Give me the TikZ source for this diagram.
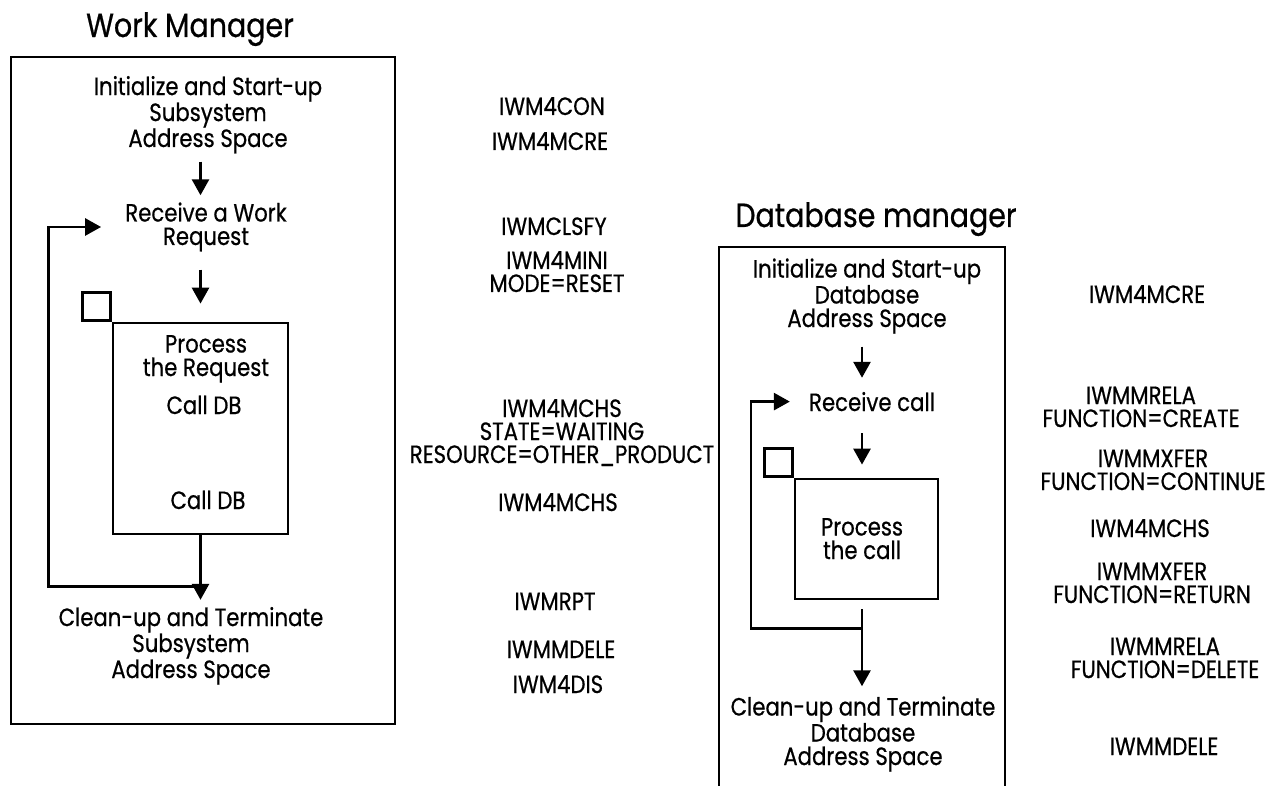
\documentclass[tikz,border=0pt]{standalone}
\usepackage{fontspec}
\setmainfont{Poppins}[FakeStretch=0.85,FakeBold=0.6]
\usetikzlibrary{arrows.meta,positioning,calc}
\newcommand{\stepfont}{\fontsize{25}{23.5}\selectfont}
\newcommand{\callfont}{\fontsize{25}{23}\selectfont}
\newcommand{\headfont}{\fontsize{33.5}{33.5}\selectfont}
\begin{document}
\begin{tikzpicture}[x=1pt,y=-1pt,
	stepbox/.style={font=\stepfont,align=center,inner sep=0pt,anchor=base},
	callbox/.style={font=\callfont,align=center,inner sep=0pt,anchor=base},
	head/.style={font=\headfont,inner sep=0pt,anchor=base},
	frame/.style={draw,line width=2.8pt},
	flow/.style={line width=2.8pt,-{Triangle[width=17pt,length=16pt]},shorten <=8pt,shorten >=7pt}]
	\useasboundingbox (0,0) rectangle (1272,786);
	% Work manager (text nodes sit on the baseline of their last line)
	\node[head] (wmhead) at (190,37) {Work Manager};
	\node[frame,minimum width=384pt,minimum height=667pt] (wmbox) at (203,390.5) {};
	\node[stepbox] (winit) at (208,147) {Initialize and Start-up\\Subsystem\\Address Space};
	\node[stepbox] (wrecv) at (206,245) {Receive a Work\\Request};
	\node[frame,minimum width=175pt,minimum height=211pt] (wproc) at (200.5,428.5) {};
	\node[frame,minimum size=27.5pt,anchor=south east] (wsq) at (wproc.north west) {};
	\node[stepbox] (wproct) at (206,376) {Process\\the Request};
	\node[stepbox] (wcall1) at (204,414) {Call DB};
	\node[stepbox] (wcall2) at (208,509) {Call DB};
	\node[stepbox] (wclean) at (191,678) {Clean-up and Terminate\\Subsystem\\Address Space};
	\draw[flow] (winit.south -| wproc.center) -- (wrecv.north -| wproc.center);
	\draw[flow,shorten <=18pt,shorten >=18pt] (wrecv.south -| wproc.center) -- (wproc.north);
	\draw[flow,shorten <=0pt] (wproc.south) -- (wclean.north -| wproc.south);
	\coordinate (wback) at ($(wproc.south)+(0,51)$);
	\draw[flow,shorten <=0pt,shorten >=24pt] (wback) -- ++(-152,0) |- (wrecv.west);
	% Database manager
	\node[head] (dbhead) at (876,227) {Database manager};
	\draw[frame] (719,786) |- (1005,247) -- (1005,786);
	\node[stepbox] (dinit) at (867,327) {Initialize and Start-up\\Database\\Address Space};
	\node[stepbox] (drecv) at (872,411) {Receive call};
	\node[frame,minimum width=143pt,minimum height=120pt] (dproc) at (866.5,539) {};
	\node[frame,minimum size=27.5pt,anchor=south east] (dsq) at (dproc.north west) {};
	\node[stepbox] (dproct) at (862,559) {Process\\the call};
	\node[stepbox] (dclean) at (863,765) {Clean-up and Terminate\\Database\\Address Space};
	\coordinate (daxis) at (862,0);
	\draw[flow,shorten <=13pt,shorten >=14pt] (dinit.south -| daxis) -- (drecv.north -| daxis);
	\draw[flow,shorten <=22pt,shorten >=13pt] (drecv.south -| daxis) -- (dproc.north -| daxis);
	\draw[flow,shorten <=9pt,shorten >=10pt] (dproc.south -| daxis) -- (dclean.north -| daxis);
	\coordinate (dback) at ($(dproc.south -| daxis)+(0,28)$);
	\draw[flow,shorten <=0pt,shorten >=19pt] (dback) -- ++(-111,0) |- (drecv.west);
	% service calls
	\foreach \n/\x/\y/\t in {m1/552/115/{IWM4CON}, m2/550/150/{IWM4MCRE},
	    m3/554/235/{IWMCLSFY}, m4/557/292/{IWM4MINI\\MODE=RESET},
	    m5/562/463/{IWM4MCHS\\STATE=WAITING\\RESOURCE=OTHER\_PRODUCT},
	    m6/558/511/{IWM4MCHS}, m7/555/610/{IWMRPT}, m8/561/658/{IWMMDELE},
	    m9/558/693/{IWM4DIS}} {
	  \node[callbox] (\n) at (\x,\y) {\t};
	}
	\foreach \n/\x/\y/\t in {r1/1147/303/{IWM4MCRE},
	    r2/1141/427/{IWMMRELA\\FUNCTION=CREATE},
	    r3/1153/490/{IWMMXFER\\FUNCTION=CONTINUE}, r4/1150/537/{IWM4MCHS},
	    r5/1152/603/{IWMMXFER\\FUNCTION=RETURN},
	    r6/1165/678/{IWMMRELA\\FUNCTION=DELETE}, r7/1164/755/{IWMMDELE}} {
	  \node[callbox] (\n) at (\x,\y) {\t};
	}
\end{tikzpicture}
\end{document}
